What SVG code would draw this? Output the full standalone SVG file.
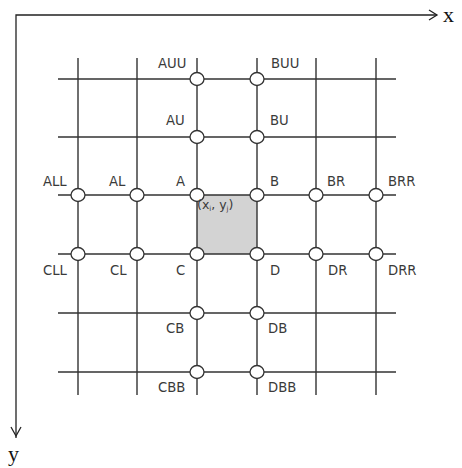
<svg xmlns="http://www.w3.org/2000/svg" width="462" height="468" viewBox="0 0 462 468">
<style>
.g{stroke:#333;stroke-width:1.4;fill:none}
.ax{stroke:#222;stroke-width:1.3;fill:none}
.n{fill:#fff;stroke:#333;stroke-width:1.3}
.t{font-family:"DejaVu Sans",sans-serif;font-size:13.2px;fill:#3a3a3a}
.s{font-family:"Liberation Serif",serif;font-size:22px;fill:#111}
</style>
<rect width="462" height="468" fill="#fff"/>
<g id="axes">
<polyline class="ax" points="16,438 16,15 437,15"/>
<polyline class="ax" points="429,10 437,15 429,20"/>
<polyline class="ax" points="11,427 16,436 21,427"/>
<text class="s" x="443" y="22">x</text>
<text class="s" x="8" y="461">y</text>
</g>
<rect id="cell" x="197" y="195" width="60" height="59" fill="#d3d3d3"/>
<g id="connectors">
<path class="g" d="M58,79H396M58,137H396M58,195H396M58,254H396M58,313H396M58,372H396"/>
<path class="g" d="M78,58V395M137,58V395M197,58V395M257,58V395M316,58V395M376,58V395"/>
</g>
<g id="nodes">
<g id="AUU"><ellipse class="n" cx="197" cy="79" rx="7" ry="6.5"/><text class="t" x="158" y="68">AUU</text></g>
<g id="BUU"><ellipse class="n" cx="257" cy="79" rx="7" ry="6.5"/><text class="t" x="271" y="68">BUU</text></g>
<g id="AU"><ellipse class="n" cx="197" cy="137" rx="7" ry="6.5"/><text class="t" x="166" y="125">AU</text></g>
<g id="BU"><ellipse class="n" cx="257" cy="137" rx="7" ry="6.5"/><text class="t" x="270" y="125">BU</text></g>
<g id="ALL"><ellipse class="n" cx="78" cy="195" rx="7" ry="6.5"/><text class="t" x="43" y="186">ALL</text></g>
<g id="AL"><ellipse class="n" cx="137" cy="195" rx="7" ry="6.5"/><text class="t" x="109" y="186">AL</text></g>
<g id="A"><ellipse class="n" cx="197" cy="195" rx="7" ry="6.5"/><text class="t" x="176" y="186">A</text></g>
<g id="B"><ellipse class="n" cx="257" cy="195" rx="7" ry="6.5"/><text class="t" x="270" y="186">B</text></g>
<g id="BR"><ellipse class="n" cx="316" cy="195" rx="7" ry="6.5"/><text class="t" x="327" y="186">BR</text></g>
<g id="BRR"><ellipse class="n" cx="376" cy="195" rx="7" ry="6.5"/><text class="t" x="388" y="186">BRR</text></g>
<g id="CLL"><ellipse class="n" cx="78" cy="254" rx="7" ry="6.5"/><text class="t" x="43" y="275">CLL</text></g>
<g id="CL"><ellipse class="n" cx="137" cy="254" rx="7" ry="6.5"/><text class="t" x="110" y="275">CL</text></g>
<g id="C"><ellipse class="n" cx="197" cy="254" rx="7" ry="6.5"/><text class="t" x="176" y="275">C</text></g>
<g id="D"><ellipse class="n" cx="257" cy="254" rx="7" ry="6.5"/><text class="t" x="270" y="275">D</text></g>
<g id="DR"><ellipse class="n" cx="316" cy="254" rx="7" ry="6.5"/><text class="t" x="328" y="275">DR</text></g>
<g id="DRR"><ellipse class="n" cx="376" cy="254" rx="7" ry="6.5"/><text class="t" x="388" y="275">DRR</text></g>
<g id="CB"><ellipse class="n" cx="197" cy="313" rx="7" ry="6.5"/><text class="t" x="166" y="333">CB</text></g>
<g id="DB"><ellipse class="n" cx="257" cy="313" rx="7" ry="6.5"/><text class="t" x="268" y="333">DB</text></g>
<g id="CBB"><ellipse class="n" cx="197" cy="372" rx="7" ry="6.5"/><text class="t" x="158" y="392">CBB</text></g>
<g id="DBB"><ellipse class="n" cx="257" cy="372" rx="7" ry="6.5"/><text class="t" x="268" y="392">DBB</text></g>
<text id="xy" class="t" x="197" y="209" style="font-size:12.5px">(x<tspan style="font-size:7px" dy="2">i</tspan><tspan dy="-2">, y</tspan><tspan style="font-size:7px" dy="2">j</tspan><tspan dy="-2">)</tspan></text>
</g>
</svg>
